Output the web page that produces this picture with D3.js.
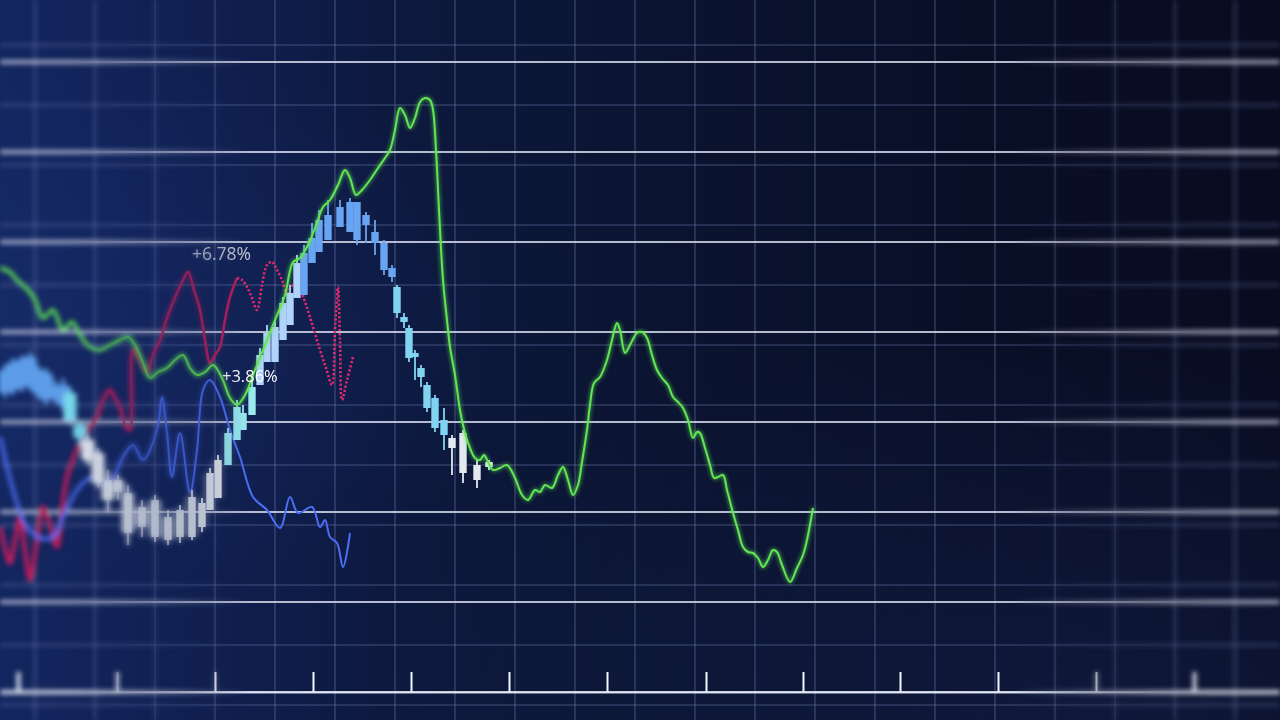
<!DOCTYPE html>
<html><head><meta charset="utf-8">
<script src="https://cdn.jsdelivr.net/npm/d3@7"></script>
<style>html,body{margin:0;padding:0;background:#0b1430;overflow:hidden}</style>
</head><body><svg id="c" width="1280" height="720"></svg>
<script>
// ---------- DATA (time units t, price units v) ----------
const greenT = [0,1,1.7,2.8,3.5,4.3,5.3,6.3,7.2,8,9,10,11,12,12.8,13.5,14.2,15,15.8,16.7,17.5,18.3,19,19.7,20.5,21.3,22.2,23,23.7,24.5,25.5,26.5,27.5,28.5,29.3,30,30.8,31.5,32.3,33,33.8,34.5,35,35.6,36.2,37,37.8,38.5,39,39.5,40,40.5,41,41.5,42,42.5,43,43.3,43.6,43.9,44.3,44.7,45,45.5,46,46.5,47,47.5,48,48.4,48.8,49.3,50,50.7,51.5,52.2,52.8,53.5,54,54.5,55.2,55.8,56.3,56.8,57.3,57.8,58.2,58.7,59,59.4,60,60.7,61.2,61.7,62,62.5,63,63.7,64.2,64.7,65.2,65.7,66.2,66.8,67.3,67.8,68.3,68.8,69.3,69.7,70,70.5,71,71.4,71.8,72.3,72.7,73.3,73.8,74.3,74.8,75.3,75.8,76.3,76.8,77.3,77.7,78.2,79,79.7,80.3,80.7,81.3];
const greenV = [424,420,412,402,392,374,382,362,370,357,345,342,347,352,355,347,332,314,320,324,332,337,324,317,320,327,314,294,287,297,322,347,372,397,430,434,447,464,485,492,507,522,514,497,502,512,524,534,542,562,584,577,564,574,590,594,592,582,542,482,412,372,345,317,282,259,244,234,232,237,230,222,224,227,214,197,192,202,200,207,204,217,225,212,197,207,230,262,287,309,315,332,352,369,362,339,347,359,360,354,337,322,314,307,295,290,284,272,254,260,259,244,227,214,215,217,202,179,162,145,140,139,134,125,132,142,140,127,110,124,137,152,184];

const blueT = [0,0.7,1.7,2.7,4,5.3,6.3,7.7,9,10,11.3,12.3,13.3,14.3,15.7,16.2,16.7,17.2,18,19,19.7,20.3,21,22,23,24,25.3,26.7,28,29,29.8,31.2,32,32.5,33,33.7,34.3,35];
const blueV = [255,225,189,165,154,155,175,202,214,209,215,235,247,232,262,295,259,215,259,199,242,302,312,295,262,235,195,182,164,195,179,185,165,172,155,149,125,159];

const redT = [0,0.5,1,1.5,2,2.5,3,3.7,4.3,5,5.7,6.2,6.7,7.3,8,8.8,9.7,10.3,11,11.5,12,12.5,13,13.3,14,14.7,15.3,16,16.8,17.7,18.3,18.8,19.4,20,20.5,21,21.5,22,22.5,23,23.7];
const redV = [165,144,129,152,175,142,112,152,185,167,145,182,215,232,249,262,275,292,302,294,285,267,262,342,332,319,337,352,377,399,412,420,402,382,352,329,337,345,372,395,414];

const redDotT = [23.7,24.2,24.7,25.2,25.7,26.2,26.7,27.2,27.7,28.2,28.7,29.3,30,30.6,31.3,32,32.6,33.2,33.5,33.8,34,34.2,34.7,35.3];
const redDotV = [414,412,405,394,382,407,427,430,422,412,399,407,402,387,365,342,324,307,362,405,352,292,312,335];

const candleT = [0.5,1.3,2.2,3.0,3.8,4.6,5.5,6.3,7.0,8.0,8.8,9.8,10.8,11.8,12.8,14.2,15.5,16.8,18.0,19.2,20.2,21.0,21.8,22.8,23.7,24.3,25.2,26.0,26.7,27.5,28.3,29.0,29.7,30.4,31.2,31.9,32.8,34.0,35.0,35.7,36.6,37.5,38.4,39.2,39.7,40.4,40.9,41.5,42.1,42.7,43.5,44.4,45.2,46.3,47.7,48.9];
const candleO = [322,329,332,335,322,319,305,307,299,267,252,239,212,212,199,185,192,175,182,195,189,182,194,227,252,262,277,307,330,330,352,367,394,397,429,440,452,465,460,490,477,460,449,424,405,375,364,339,324,307,294,272,254,259,227,230];
const candleC = [299,302,305,309,299,292,295,287,272,254,232,209,192,200,159,165,155,152,155,155,165,219,232,259,285,279,305,337,359,365,389,399,429,439,454,472,477,485,490,452,467,449,422,415,379,370,334,335,315,284,264,257,244,219,212,225];
const candleH = [327,334,337,340,327,324,312,314,304,272,257,244,222,217,207,192,197,182,187,202,194,224,237,264,292,287,312,344,367,372,395,407,437,447,469,482,492,492,494,490,480,472,452,427,407,379,367,342,327,310,297,284,257,262,232,232];
const candleL = [294,297,300,302,294,287,290,282,267,247,227,204,179,192,147,155,150,147,149,152,160,182,194,227,252,262,277,307,330,330,352,367,394,397,429,440,452,465,460,447,449,437,417,410,374,364,330,312,305,280,260,242,217,209,204,222];

const tickT = [1.8,11.7,21.5,31.3,41.1,50.9,60.7,70.6,80.3,90.0,99.8,109.6,119.4];
const labels = [{text:"+6.78%", t:19.2, v:432}, {text:"+3.86%", t:22.2, v:310}];

// ---------- SETUP ----------
const W = 1280, H = 720;
const x = d3.scaleLinear().domain([0,128]).range([0,1280]);
const y = d3.scaleLinear().domain([0,630]).range([692,62]);
const candleColor = d3.scaleThreshold()
  .domain([6.6, 8.6, 22.6, 25.6, 30.1, 39.5, 44.8])
  .range(["#5d9ce8","#76d6ea","#e6ebf2","#9aeaf0","#b0d2fb","#68a4f2","#80d4f2","#e4e9f0"]);

const svg = d3.select('#c');
const defs = svg.append('defs');

const bg = defs.append('linearGradient').attr('id','bg').attr('x1',0).attr('x2',1).attr('y1',0).attr('y2',0);
[[0,'#13265f'],[0.12,'#112154'],[0.3,'#0d193f'],[0.5,'#0b1431'],[0.75,'#090f27'],[1,'#080c20']].forEach(s=>bg.append('stop').attr('offset',s[0]).attr('stop-color',s[1]));
const rg = defs.append('radialGradient').attr('id','rg').attr('cx',0.85).attr('cy',1).attr('r',0.55);
rg.append('stop').attr('offset',0).attr('stop-color','#1c2d66').attr('stop-opacity',0.35);
rg.append('stop').attr('offset',1).attr('stop-color','#1c2d66').attr('stop-opacity',0);
const rg2 = defs.append('radialGradient').attr('id','rg2').attr('cx',0.02).attr('cy',0.45).attr('r',0.4);
rg2.append('stop').attr('offset',0).attr('stop-color','#1a3278').attr('stop-opacity',0.35);
rg2.append('stop').attr('offset',1).attr('stop-color','#1a3278').attr('stop-opacity',0);

function grad(id, stops){
  const g = defs.append('linearGradient').attr('id',id).attr('gradientUnits','userSpaceOnUse')
    .attr('x1',0).attr('x2',W).attr('y1',0).attr('y2',0);
  stops.forEach(s=>g.append('stop').attr('offset',s[0]/W).attr('stop-color',s[1]));
}
grad('mgS',[[0,'#000'],[70,'#000'],[250,'#fff'],[1010,'#fff'],[1210,'#000'],[W,'#000']]);
grad('mgB',[[0,'#fff'],[70,'#fff'],[250,'#000'],[1010,'#000'],[1210,'#fff'],[W,'#fff']]);
function mask(id, gid){
  defs.append('mask').attr('id',id).attr('maskUnits','userSpaceOnUse').attr('x',0).attr('y',0).attr('width',W).attr('height',H)
    .append('rect').attr('width',W).attr('height',H).attr('fill',`url(#${gid})`);
}
mask('mS','mgS'); mask('mB','mgB');

const fb = defs.append('filter').attr('id','blur').attr('filterUnits','userSpaceOnUse').attr('x',-30).attr('y',-30).attr('width',W+60).attr('height',H+60);
fb.append('feGaussianBlur').attr('stdDeviation',2.6);
const fg = defs.append('filter').attr('id','glow').attr('filterUnits','userSpaceOnUse').attr('x',-30).attr('y',-30).attr('width',W+60).attr('height',H+60);
fg.append('feGaussianBlur').attr('stdDeviation',2).attr('result','b');
const fm = fg.append('feMerge'); fm.append('feMergeNode').attr('in','b'); fm.append('feMergeNode').attr('in','SourceGraphic');

svg.append('rect').attr('width',W).attr('height',H).attr('fill','url(#bg)');
svg.append('rect').attr('width',W).attr('height',H).attr('fill','url(#rg)');
svg.append('rect').attr('width',W).attr('height',H).attr('fill','url(#rg2)');

const line = (T,V)=>d3.line().x((d,i)=>x(T[i])).y((d,i)=>y(V[i])).curve(d3.curveCatmullRom.alpha(0.5))(T);

function drawScene(g, blurred){
  const k = blurred ? 1.8 : 1;
  // faint grid
  g.append('g').selectAll('line').data(d3.range(3.5,128,6)).join('line')
    .attr('x1',d=>x(d)).attr('x2',d=>x(d)).attr('y1',0).attr('y2',H)
    .attr('stroke','#7f8cc0').attr('stroke-opacity',0.32).attr('stroke-width',1.6*k);
  g.append('g').selectAll('line').data(d3.range(-13,660,60)).join('line')
    .attr('x1',0).attr('x2',W).attr('y1',d=>y(d)).attr('y2',d=>y(d))
    .attr('stroke','#7f8cc0').attr('stroke-opacity',0.32).attr('stroke-width',1.6*k);
  // bright horizontal lines
  g.append('g').selectAll('line').data(d3.range(0,631,90)).join('line')
    .attr('x1',0).attr('x2',W).attr('y1',d=>y(d)).attr('y2',d=>y(d))
    .attr('stroke','#d4d8ea').attr('stroke-opacity',0.85).attr('stroke-width',2*k);
  // bottom axis
  const ax = g.append('g').attr('transform',`translate(0,${y(0)})`)
    .call(d3.axisTop(x).tickValues(tickT).tickSize(20).tickSizeOuter(0).tickFormat(''));
  ax.select('.domain').attr('stroke','#e8ecf8').attr('stroke-width',2*k).attr('stroke-opacity',0.85);
  ax.selectAll('.tick line').attr('stroke','#f4f6ff').attr('stroke-width',2*k);

  // red solid
  g.append('path').attr('d',line(redT,redV)).attr('fill','none')
    .attr('stroke','#b81f5c').attr('stroke-width',2.6*k).attr('stroke-linejoin','round');
  // red dotted
  g.append('path').attr('d',line(redDotT,redDotV)).attr('fill','none')
    .attr('stroke','#e02a6c').attr('stroke-width',2.6).attr('stroke-dasharray','2.2,2');
  // blue
  g.append('path').attr('d',line(blueT,blueV)).attr('fill','none')
    .attr('stroke','#4c6ef6').attr('stroke-width',2*k).attr('stroke-linejoin','round');

  // candles
  const idx = d3.range(candleT.length);
  const cg = g.append('g');
  cg.selectAll('.wick').data(idx).join('line')
    .attr('x1',i=>x(candleT[i])).attr('x2',i=>x(candleT[i]))
    .attr('y1',i=>y(candleH[i])).attr('y2',i=>y(candleL[i]))
    .attr('stroke',i=>candleColor(candleT[i])).attr('stroke-width',1.8*k);
  const bw = 7.4;
  cg.selectAll('.body').data(idx).join('rect')
    .attr('x',i=>x(candleT[i])-bw*k/2).attr('width',bw*k)
    .attr('y',i=>y(Math.max(candleO[i],candleC[i])))
    .attr('height',i=>Math.max(3,Math.abs(y(candleO[i])-y(candleC[i]))))
    .attr('fill',i=>candleColor(candleT[i]));

  // green
  g.append('path').attr('d',line(greenT,greenV)).attr('fill','none')
    .attr('stroke','#62e653').attr('stroke-width',2*k).attr('stroke-linejoin','round')
    .attr('filter', blurred ? null : 'url(#glow)');

  // labels
  g.selectAll('.lbl').data(labels).join('text')
    .attr('x',d=>x(d.t)).attr('y',d=>y(d.v))
    .attr('font-family','"Open Sans", "Noto Sans", sans-serif')
    .attr('font-size',(d,i)=>i===0?17.5:16.5)
    .attr('fill',(d,i)=>i===0?'#e0e2ea':'#ffffff')
    .attr('fill-opacity',(d,i)=>i===0?0.85:1)
    .text(d=>d.text);
}

const blurWrap = svg.append('g').attr('mask','url(#mB)');
drawScene(blurWrap.append('g').attr('filter','url(#blur)'), true);
const sharpWrap = svg.append('g').attr('mask','url(#mS)');
drawScene(sharpWrap.append('g'), false);
</script></body></html>
